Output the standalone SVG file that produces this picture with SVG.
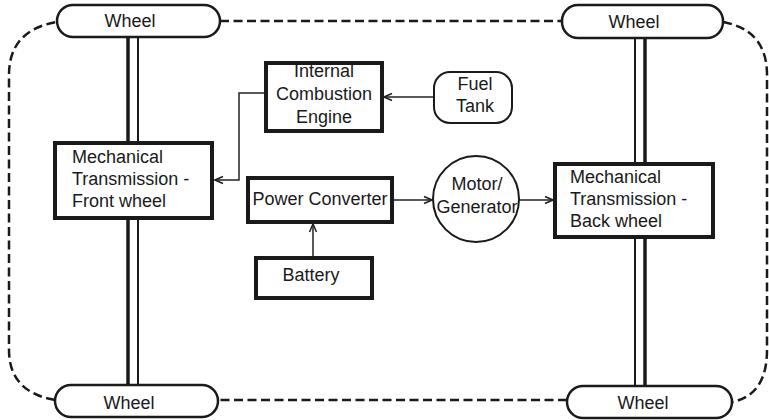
<svg xmlns="http://www.w3.org/2000/svg" width="769" height="420" viewBox="0 0 769 420">
<defs>
<marker id="arr" markerWidth="10" markerHeight="10" refX="9" refY="5" orient="auto" markerUnits="userSpaceOnUse">
<path d="M1,1.5 L9,5 L1,8.5" fill="none" stroke="#222" stroke-width="1.5"/>
</marker>
</defs>
<style>
text{font-family:"Liberation Sans",Arial,sans-serif;font-size:18px;fill:#1a1a1a}
.c{text-anchor:middle}
.wheel{fill:#fff;stroke:#1a1a1a;stroke-width:2.5}
.box{fill:#fff;stroke:#1a1a1a;stroke-width:4}
.thin{fill:#fff;stroke:#1a1a1a;stroke-width:2}
.dash{fill:none;stroke:#1a1a1a;stroke-width:2.5;stroke-dasharray:9 4.5}
.conn{fill:none;stroke:#222;stroke-width:1.5}
.axT{stroke:#1a1a1a;stroke-width:3.5}
.axt{stroke:#1a1a1a;stroke-width:2}
</style>
<rect width="769" height="420" fill="#fff"/>
<g id="frame">
<path class="dash" d="M220,21 H562"/>
<path class="dash" d="M723,22 Q767,30 767,75 V350 Q767,395 732,402"/>
<path class="dash" d="M567,400 H218"/>
<path class="dash" d="M55,400 Q9,392 9,350 V75 Q9,30 57,22"/>
</g>
<g id="axles">
<line class="axT" x1="128" y1="36" x2="128" y2="143"/>
<line class="axt" x1="138" y1="36" x2="138" y2="143"/>
<line class="axT" x1="128" y1="218" x2="128" y2="386"/>
<line class="axt" x1="138" y1="218" x2="138" y2="386"/>
<line class="axt" x1="635" y1="37" x2="635" y2="163"/>
<line class="axT" x1="645" y1="37" x2="645" y2="163"/>
<line class="axt" x1="635" y1="237" x2="635" y2="387"/>
<line class="axT" x1="645" y1="237" x2="645" y2="387"/>
</g>
<g id="connectors">
<path class="conn" d="M265,93 H239 V180 H215" marker-end="url(#arr)"/>
<path class="conn" d="M433,97 H384" marker-end="url(#arr)"/>
<path class="conn" d="M313,257 V224" marker-end="url(#arr)"/>
<path class="conn" d="M392,200 H432" marker-end="url(#arr)"/>
<path class="conn" d="M519,200 H553" marker-end="url(#arr)"/>
</g>
<g id="wheel-tl"><rect class="wheel" x="57" y="5" width="163" height="32" rx="16"/><text class="c" x="130" y="27">Wheel</text></g>
<g id="wheel-tr"><rect class="wheel" x="562" y="5" width="161" height="33" rx="16"/><text class="c" x="634" y="28">Wheel</text></g>
<g id="wheel-bl"><rect class="wheel" x="55" y="385" width="163" height="32" rx="16"/><text class="c" x="129" y="409">Wheel</text></g>
<g id="wheel-br"><rect class="wheel" x="567" y="386" width="165" height="32" rx="16"/><text class="c" x="643" y="409">Wheel</text></g>
<g id="mech-front"><rect class="box" x="55" y="143" width="157" height="75"/>
<text x="72" y="163">Mechanical</text><text x="72" y="185">Transmission -</text><text x="72" y="207">Front wheel</text></g>
<g id="ice"><rect class="box" x="266" y="63" width="116" height="68"/>
<text class="c" x="324" y="77">Internal</text><text class="c" x="324" y="100">Combustion</text><text class="c" x="324" y="123">Engine</text></g>
<g id="fuel"><rect class="thin" x="434" y="72" width="78" height="51" rx="16"/>
<text class="c" x="475" y="90">Fuel</text><text class="c" x="475" y="112">Tank</text></g>
<g id="power"><rect class="box" x="248" y="178" width="144" height="44"/>
<text class="c" x="320" y="205">Power Converter</text></g>
<g id="battery"><rect class="box" x="256" y="258" width="116" height="40"/>
<text class="c" x="311" y="281">Battery</text></g>
<g id="motor"><circle class="thin" cx="476" cy="199" r="43"/>
<text class="c" x="477" y="190">Motor/</text><text class="c" x="477" y="213">Generator</text></g>
<g id="mech-back"><rect class="box" x="555" y="164" width="158" height="73"/>
<text x="570" y="183">Mechanical</text><text x="570" y="205">Transmission -</text><text x="570" y="227">Back wheel</text></g>
</svg>
